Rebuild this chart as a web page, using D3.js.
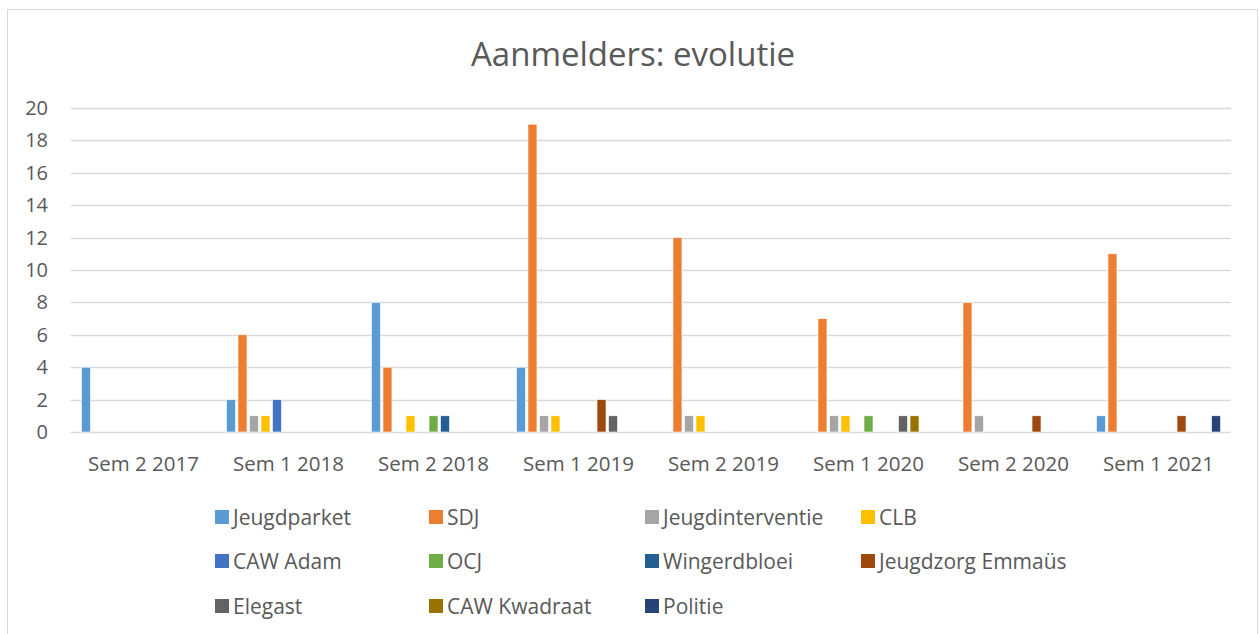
<!DOCTYPE html>
<html>
<head>
<meta charset="utf-8">
<script src="https://cdn.jsdelivr.net/npm/d3@7"></script>
<style>
  body { margin: 0; background: #fff; }
  text { font-family: "Open Sans", "Noto Sans", sans-serif; fill: #595959; }
</style>
</head>
<body>
<div id="chart"></div>
<script>
// categories and series
var semesters = ["Sem 2 2017", "Sem 1 2018", "Sem 2 2018", "Sem 1 2019",
                 "Sem 2 2019", "Sem 1 2020", "Sem 2 2020", "Sem 1 2021"];
var seriesNames = ["Jeugdparket", "SDJ", "Jeugdinterventie", "CLB", "CAW Adam", "OCJ",
                   "Wingerdbloei", "Jeugdzorg Emmaüs", "Elegast", "CAW Kwadraat", "Politie"];
var seriesColors = ["#5B9BD5", "#ED7D31", "#A5A5A5", "#FFC000", "#4472C4", "#70AD47",
                    "#255E91", "#9E480E", "#636363", "#997300", "#264478"];

// values per series, one per semester
var jeugdparket      = [4, 2, 8, 4, 0, 0, 0, 1];
var sdj              = [0, 6, 4, 19, 12, 7, 8, 11];
var jeugdinterventie = [0, 1, 0, 1, 1, 1, 1, 0];
var clb              = [0, 1, 1, 1, 1, 1, 0, 0];
var cawAdam          = [0, 2, 0, 0, 0, 0, 0, 0];
var ocj              = [0, 0, 1, 0, 0, 1, 0, 0];
var wingerdbloei     = [0, 0, 1, 0, 0, 0, 0, 0];
var jeugdzorgEmmaus  = [0, 0, 0, 2, 0, 0, 1, 1];
var elegast          = [0, 0, 0, 1, 0, 1, 0, 0];
var cawKwadraat      = [0, 0, 0, 0, 0, 1, 0, 0];
var politie          = [0, 0, 0, 0, 0, 0, 0, 1];

var yTicks = [0, 2, 4, 6, 8, 10, 12, 14, 16, 18, 20];

var allValues = [jeugdparket, sdj, jeugdinterventie, clb, cawAdam, ocj,
                 wingerdbloei, jeugdzorgEmmaus, elegast, cawKwadraat, politie];

var W = 1260, H = 634;
var margin = { top: 108, left: 71, right: 29, bottom: 202 };
var width = W - margin.left - margin.right,
    height = H - margin.top - margin.bottom;

var svg = d3.select("#chart").append("svg")
  .attr("width", W)
  .attr("height", H);

// chart border
svg.append("rect")
  .attr("x", 7.5).attr("y", 9.5)
  .attr("width", 1250).attr("height", 640)
  .attr("fill", "#fff")
  .attr("stroke", "#d9d9d9")
  .attr("stroke-width", 1);

svg.append("text")
  .attr("x", 633).attr("y", 66)
  .attr("text-anchor", "middle")
  .style("font-size", "33px")
  .text("Aanmelders: evolutie");

var g = svg.append("g")
  .attr("transform", "translate(" + margin.left + "," + margin.top + ")");

var x0 = d3.scaleBand().domain(semesters).range([0, width]).padding(0);
var x1 = d3.scaleBand().domain(seriesNames).range([0, x0.bandwidth()])
  .paddingInner(0.22).paddingOuter(0.91);
var y = d3.scaleLinear().domain([0, 20]).range([height, 0]);

// gridlines
g.append("g").selectAll("line")
  .data(yTicks)
  .enter().append("line")
  .attr("x1", 0).attr("x2", width)
  .attr("y1", function (d) { return Math.round(y(d)) + 0.5; })
  .attr("y2", function (d) { return Math.round(y(d)) + 0.5; })
  .attr("stroke", "#d9d9d9")
  .attr("stroke-width", 1.3);

// y labels
g.append("g").selectAll("text")
  .data(yTicks)
  .enter().append("text")
  .attr("x", -23)
  .attr("y", function (d) { return y(d); })
  .attr("dy", "0.35em")
  .attr("text-anchor", "end")
  .style("font-size", "20px")
  .text(function (d) { return d; });

// x labels
g.append("g").selectAll("text")
  .data(semesters)
  .enter().append("text")
  .attr("x", function (d) { return x0(d) + x0.bandwidth() / 2; })
  .attr("y", height + 39)
  .attr("text-anchor", "middle")
  .style("font-size", "20.5px")
  .text(function (d) { return d; });

// bars
var barData = [];
seriesNames.forEach(function (s, i) {
  semesters.forEach(function (sem, j) {
    if (allValues[i][j] > 0) {
      barData.push({ series: s, sem: sem, value: allValues[i][j], color: seriesColors[i] });
    }
  });
});

g.append("g").selectAll("rect")
  .data(barData)
  .enter().append("rect")
  .attr("x", function (d) { return x0(d.sem) + x1(d.series); })
  .attr("y", function (d) { return y(d.value); })
  .attr("width", x1.bandwidth())
  .attr("height", function (d) { return y(0) - y(d.value); })
  .attr("fill", function (d) { return d.color; })
  .attr("stroke", "#fff")
  .attr("stroke-width", 0.6);

// legend
var legendCols = [215, 429, 645, 861];
var legendRows = [517, 561, 606];
var legend = svg.append("g").selectAll("g")
  .data(seriesNames)
  .enter().append("g")
  .attr("transform", function (d, i) {
    return "translate(" + legendCols[i % 4] + "," + legendRows[Math.floor(i / 4)] + ")";
  });

legend.append("rect")
  .attr("x", 0).attr("y", -7)
  .attr("width", 14).attr("height", 14)
  .attr("fill", function (d, i) { return seriesColors[i]; });

legend.append("text")
  .attr("x", 18)
  .attr("y", 8)
  .style("font-size", "21px")
  .text(function (d) { return d; });
</script>
</body>
</html>
